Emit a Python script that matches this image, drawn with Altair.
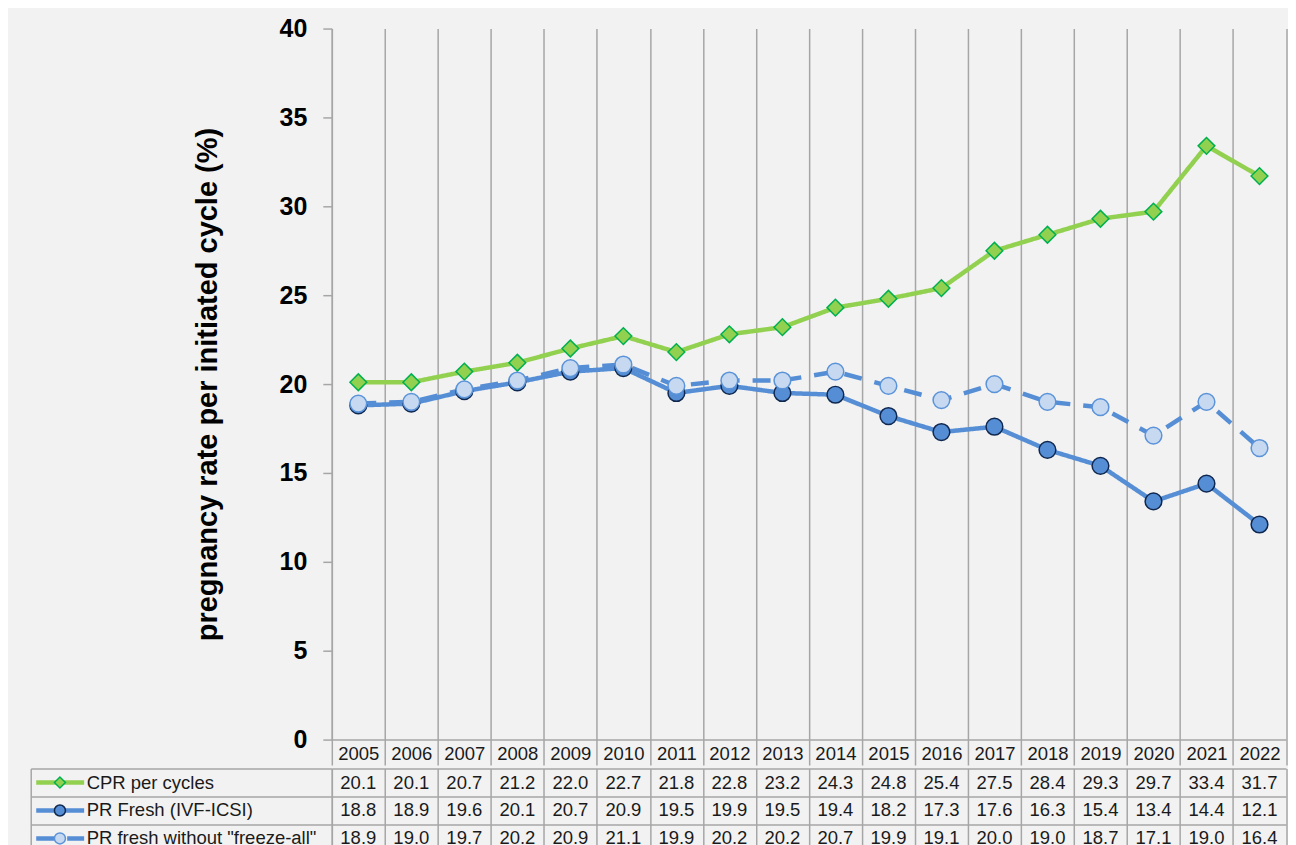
import altair as alt
import pandas as pd

# ---------------- data ----------------
years = [str(y) for y in range(2005, 2023)]
series_names = ["CPR per cycles", "PR Fresh (IVF-ICSI)", 'PR fresh without "freeze-all"']
marker_keys = [n + " (marker)" for n in series_names]
cpr_per_cycles = [20.1, 20.1, 20.7, 21.2, 22.0, 22.7, 21.8, 22.8, 23.2, 24.3, 24.8, 25.4, 27.5, 28.4, 29.3, 29.7, 33.4, 31.7]
pr_fresh = [18.8, 18.9, 19.6, 20.1, 20.7, 20.9, 19.5, 19.9, 19.5, 19.4, 18.2, 17.3, 17.6, 16.3, 15.4, 13.4, 14.4, 12.1]
pr_fresh_no_freeze_all = [18.9, 19.0, 19.7, 20.2, 20.9, 21.1, 19.9, 20.2, 20.2, 20.7, 19.9, 19.1, 20.0, 19.0, 18.7, 17.1, 19.0, 16.4]
y_ticks = [0, 5, 10, 15, 20, 25, 30, 35, 40]
y_title = "pregnancy rate per initiated cycle (%)"

# ---------------- styles ----------------
FONT = "Liberation Sans"
TXT = "#1a1a1a"
GRID = "#a6a6a6"
BG = "#f2f2f2"
line_colors = ["#92d050", "#558ed5", "#558ed5"]
dashes = [[1, 0], [1, 0], [18, 13]]
marker_fill = ["#92d050", "#558ed5", "#c6d9f1"]
marker_stroke = ["#00b050", "#10284f", "#5b93d9"]
shapes = ["diamond", "circle", "circle"]

rows = []
for name, vals in zip(series_names, [cpr_per_cycles, pr_fresh, pr_fresh_no_freeze_all]):
    for yr, v in zip(years, vals):
        rows.append({"year": yr, "series": name, "value": v})
df = pd.DataFrame(rows)
leg_df = pd.DataFrame({"series": series_names, "series_m": marker_keys})

PLOT_W = 955.5
PLOT_H = 712
ROW_H = 28
LEFT_BORDER = 301.5

x_scale = alt.Scale(domain=years, paddingInner=0, paddingOuter=0)

# ---------------- top chart ----------------
x_top = alt.X(
    "year:N", sort=years, scale=x_scale,
    axis=alt.Axis(
        title=None, orient="bottom", tickBand="extent",
        grid=True, gridColor=GRID, gridWidth=1.5,
        ticks=True, tickSize=25.5, tickColor=GRID, tickWidth=1.5,
        domain=True, domainColor=GRID, domainWidth=1.5,
        labelAngle=0, labelFont=FONT, labelFontSize=18.5, labelColor=TXT,
        labelBaseline="middle", labelPadding=-11.5, labelFlush=False, labelOverlap=False,
    ),
)
y_top = alt.Y(
    "value:Q",
    scale=alt.Scale(domain=[0, 40], nice=False, zero=True),
    axis=alt.Axis(
        values=y_ticks, title=y_title, titleFont=FONT, titleFontSize=29, titleFontWeight="bold",
        titleColor="#000000", titlePadding=57,
        labelFont=FONT, labelFontSize=25, labelFontWeight="bold", labelColor="#000000", labelPadding=16,
        ticks=True, tickSize=9, tickColor=GRID, tickWidth=1.5,
        domain=True, domainColor=GRID, domainWidth=1.5, grid=False,
    ),
)

lines = alt.Chart(df).mark_line(strokeWidth=4.5).encode(
    x=x_top, y=y_top,
    color=alt.Color("series:N", scale=alt.Scale(domain=series_names, range=line_colors), legend=None),
    strokeDash=alt.StrokeDash("series:N", scale=alt.Scale(domain=series_names, range=dashes), legend=None),
)
points = alt.Chart(df).mark_point(filled=True, size=280, strokeWidth=1.5, opacity=1).encode(
    x=x_top, y=y_top,
    fill=alt.Fill("series:N", scale=alt.Scale(domain=series_names, range=marker_fill), legend=None),
    stroke=alt.Stroke("series:N", scale=alt.Scale(domain=series_names, range=marker_stroke), legend=None),
    shape=alt.Shape("series:N", scale=alt.Scale(domain=series_names, range=shapes), legend=None),
)
top = alt.layer(lines, points).properties(width=PLOT_W, height=PLOT_H)

# ---------------- data table ----------------
y_table_scale = alt.Scale(domain=series_names, paddingInner=0, paddingOuter=0)

values_text = alt.Chart(df).mark_text(font=FONT, fontSize=18.5, color=TXT).encode(
    x=alt.X("year:N", sort=years, scale=x_scale,
            axis=alt.Axis(title=None, orient="bottom", labels=False, ticks=False, domain=False,
                          grid=True, tickBand="extent", gridColor=GRID, gridWidth=1.5)),
    y=alt.Y("series:N", sort=series_names, scale=y_table_scale,
            axis=alt.Axis(title=None, orient="left", labels=False, ticks=True, tickBand="extent",
                          tickSize=LEFT_BORDER, tickColor=GRID, tickWidth=1.5,
                          grid=True, gridColor=GRID, gridWidth=1.5,
                          domain=True, domainColor=GRID, domainWidth=1.5)),
    text=alt.Text("value:Q", format=".1f"),
)

leg_line = alt.Legend(
    title=None, orient="none", legendX=-298.5, legendY=0,
    symbolType="stroke", symbolSize=2304, symbolStrokeWidth=4.5, symbolOpacity=1,
    labelFont=FONT, labelFontSize=18.5, labelColor=TXT, labelOffset=0, labelLimit=400,
    padding=0, rowPadding=0, clipHeight=ROW_H,
)
leg_mark = alt.Legend(
    title=None, orient="none", legendX=-281.5, legendY=0,
    symbolSize=121, symbolStrokeWidth=1.5, symbolOpacity=1,
    symbolFillColor="#c6d9f1", symbolStrokeColor="#558ed5",
    labelFont=FONT, labelFontSize=18.5, labelOpacity=0, labelExpr="''", labelOffset=4, labelLimit=400,
    padding=0, rowPadding=0, clipHeight=ROW_H,
)

legend_lines = alt.Chart(leg_df).mark_line(opacity=0, strokeWidth=4.5).encode(
    y=alt.Y("series:N", sort=series_names, scale=y_table_scale,
            axis=alt.Axis(title=None, orient="left", offset=LEFT_BORDER, labels=False, ticks=False,
                          grid=False, domain=True, domainColor=GRID, domainWidth=1.5)),
    color=alt.Color("series:N", scale=alt.Scale(domain=series_names, range=line_colors), legend=leg_line),
    strokeDash=alt.StrokeDash("series:N", scale=alt.Scale(domain=series_names, range=dashes), legend=leg_line),
)
legend_marks = alt.Chart(leg_df).mark_point(filled=True, opacity=0).encode(
    y=alt.Y("series:N", sort=series_names, scale=y_table_scale, axis=None),
    fill=alt.Fill("series_m:N", scale=alt.Scale(domain=marker_keys, range=marker_fill), legend=leg_mark),
    stroke=alt.Stroke("series_m:N", scale=alt.Scale(domain=marker_keys, range=marker_stroke), legend=leg_mark),
    shape=alt.Shape("series_m:N", scale=alt.Scale(domain=marker_keys, range=shapes), legend=leg_mark),
)

table = alt.layer(values_text, legend_lines, legend_marks).resolve_axis(y="independent").properties(
    width=PLOT_W, height=3 * ROW_H
)

chart = (
    alt.vconcat(top, table, spacing=0)
    .resolve_scale(x="independent", y="independent", color="independent", fill="independent",
                   stroke="independent", shape="independent", strokeDash="independent")
    .resolve_legend(color="independent", fill="independent", stroke="independent",
                    shape="independent", strokeDash="independent")
    .properties(padding={"left": 21.25, "top": 7, "right": 0, "bottom": 0}, background=BG)
    .configure_view(stroke="transparent", fill=BG)
)

chart.save("out.html", embed_options={"renderer": "svg", "actions": False})
